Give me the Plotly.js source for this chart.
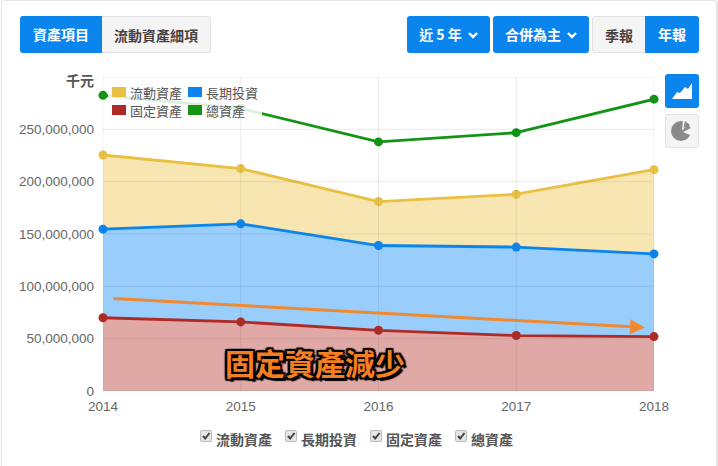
<!DOCTYPE html>
<html><head><meta charset="utf-8">
<script src="https://cdn.plot.ly/plotly-3.0.1.min.js"></script>
<style>
html,body{margin:0;padding:0;background:#fff;width:718px;height:466px;overflow:hidden;font-family:"Noto Sans CJK TC",sans-serif}
#frame{position:absolute;left:1px;top:0;width:717px;height:480px;border:1px solid #e6e6e6;border-right:2px solid #e6e6e6;border-radius:3px;box-sizing:border-box}
#chart{position:absolute;left:0;top:0;width:718px;height:466px}
.btn{position:absolute;top:16px;height:37px;line-height:36px;text-align:center;font-size:14px;font-weight:700;box-sizing:border-box;border-radius:3px}
.btn svg{margin-left:6px;vertical-align:1px}
.on{background:#0a85ee;color:#fff}
.off{background:#f4f4f4;color:#4a4040;border:1px solid #e2e2e2}
.side{position:absolute;left:665px;width:34px;height:34px;box-sizing:border-box;border-radius:3px}
.chk{position:absolute;top:429px;height:20px;font-size:14px;font-weight:700;color:#555;white-space:nowrap;line-height:20px}
.chk i{position:absolute;left:0;top:1px;width:12px;height:12px;box-sizing:border-box;background:#e6e6e6;border:1px solid #bbb;border-radius:2px}
.chk i svg{position:absolute;left:0;top:0}
.chk span{position:absolute;left:16px;top:0}
</style></head><body>
<div id="frame"></div>
<div id="chart"></div>
<div class="btn on" style="left:20px;width:82px;border-radius:3px 0 0 3px">資產項目</div>
<div class="btn off" style="left:102px;width:109px;border-radius:0 3px 3px 0;border-left:0">流動資產細項</div>
<div class="btn on" style="left:407px;width:83px">近 5 年<svg width="10" height="8"><path d="M1 2 L5 6 L9 2" fill="none" stroke="#fff" stroke-width="2.4"/></svg></div>
<div class="btn on" style="left:493px;width:96px">合併為主<svg width="10" height="8"><path d="M1 2 L5 6 L9 2" fill="none" stroke="#fff" stroke-width="2.4"/></svg></div>
<div class="btn off" style="left:592px;width:54px;border-radius:3px 0 0 3px">季報</div>
<div class="btn on" style="left:645px;width:54px;border-radius:0 3px 3px 0">年報</div>
<div class="side on" style="top:74px"><svg width="34" height="34"><path d="M7 25 L12 18 L15 19 L20 13 L23 15 L27 9 L27 25Z" fill="#fff"/></svg></div>
<div class="side off" style="top:114px"><svg width="32" height="32"><circle cx="15" cy="16" r="10" fill="#8a8a8a"/><path d="M16 15.5 L17 5 L24 8Z M17 17 L27 12 L26 21Z" fill="#f4f4f4"/><path d="M17.5 13 L19 6 L24 10Z" fill="#8a8a8a"/></svg></div>
<div class="chk" style="left:200px"><i><svg width="10" height="10"><path d="M2 5 L4.2 7.5 L8.5 2" fill="none" stroke="#444" stroke-width="2"/></svg></i><span>流動資產</span></div>
<div class="chk" style="left:285px"><i><svg width="10" height="10"><path d="M2 5 L4.2 7.5 L8.5 2" fill="none" stroke="#444" stroke-width="2"/></svg></i><span>長期投資</span></div>
<div class="chk" style="left:370px"><i><svg width="10" height="10"><path d="M2 5 L4.2 7.5 L8.5 2" fill="none" stroke="#444" stroke-width="2"/></svg></i><span>固定資產</span></div>
<div class="chk" style="left:455px"><i><svg width="10" height="10"><path d="M2 5 L4.2 7.5 L8.5 2" fill="none" stroke="#444" stroke-width="2"/></svg></i><span>總資產</span></div>
<script>
const years = ['2014','2015','2016','2017','2018'];
const current = [225.5, 212.5, 181, 188, 211.5];
const longTerm = [154.6, 159.7, 139, 137.5, 131];
const fixed = [70, 66, 58, 53, 52];
const total = [282.5, 270, 238, 246.8, 278.8];
const names = ['流動資產','長期投資','固定資產','總資產'];
const colors = ['#e8c042','#0a85ee','#b02a25','#149414'];
const fills = ['rgb(247,230,177)','rgb(153,205,251)','rgb(224,169,166)'];
const M = 1e6;
const yTicks = [0,50,100,150,200,250,300].map(v=>v*M);
const yLabels = ['0','50,000,000','100,000,000','150,000,000','200,000,000','250,000,000',''];
const series = [current,longTerm,fixed,total];
const traces = series.map((s,i)=>({
  x:years.map(Number), y:s.map(v=>v*M), name:names[i], type:'scatter', mode:'lines+markers',
  line:{color:colors[i],width:2.8}, marker:{color:colors[i],size:9}, cliponaxis:false,
  fill:i<3?'tozeroy':'none', fillcolor:fills[i], hoverinfo:'skip'
}));
const W=718,H=466,L=103,R=654,T=77,B=391;
const xa=v=>(v-L)/(R-L), ya=v=>(B-v)/(B-T);
const grid='rgba(60,60,60,0.10)';
const shapes=[];
yTicks.forEach(v=>shapes.push({type:'line',xref:'paper',yref:'y',x0:0,x1:1,y0:v,y1:v,line:{color:grid,width:1},layer:'above'}));
years.forEach(v=>shapes.push({type:'line',xref:'x',yref:'paper',x0:+v,x1:+v,y0:0,y1:1,line:{color:grid,width:1},layer:'above'}));
shapes.push({type:'rect',xref:'paper',yref:'paper',x0:xa(108),x1:xa(262),y0:ya(119),y1:ya(84),fillcolor:'rgba(255,255,255,0.85)',line:{width:0},layer:'above'});
const annotations=[];
const legendPos=[[112,92],[188,92],[112,110],[188,110]];
legendPos.forEach((p,i)=>{
  shapes.push({type:'rect',xref:'paper',yref:'paper',x0:xa(p[0]),x1:xa(p[0]+14),y0:ya(p[1]+5),y1:ya(p[1]-5),fillcolor:colors[i],line:{width:0},layer:'above'});
  annotations.push({xref:'paper',yref:'paper',x:xa(p[0]+16),y:ya(p[1]),xanchor:'left',yanchor:'middle',showarrow:false,text:names[i],font:{size:13,color:'#555'}});
});
annotations.push({xref:'paper',yref:'paper',x:xa(96),y:ya(80),xanchor:'right',yanchor:'middle',showarrow:false,text:'<b>千元</b>',font:{size:14,color:'#555'}});
annotations.push({x:2018-(654-645)/137.75,y:(B-327.5)/52.33*50*M,ax:2014+(112-103)/137.75,ay:(B-298.5)/52.33*50*M,axref:'x',ayref:'y',xref:'x',yref:'y',
  text:'',showarrow:true,arrowhead:2,arrowsize:1,arrowwidth:3,arrowcolor:'#f08a30'});
annotations.push({xref:'paper',yref:'paper',x:xa(315),y:ya(362),xanchor:'center',yanchor:'middle',showarrow:false,text:'<b>固定資產減少</b>',
  font:{size:30,color:'#f47f20',shadow:'3px 3px 1px #000, -2px -2px 1px #000, 2px -2px 1px #000, -2px 2px 1px #000, 2px 0 1px #000, -2px 0 1px #000, 0 2px 1px #000, 0 -2px 1px #000'}});
Plotly.newPlot('chart',traces,{
  width:W,height:H,margin:{l:L,r:W-R,t:T,b:H-B},showlegend:false,
  paper_bgcolor:'rgba(0,0,0,0)',plot_bgcolor:'rgba(0,0,0,0)',
  font:{family:'"Noto Sans CJK TC",Roboto,sans-serif'},
  xaxis:{range:[2014,2018],tickmode:'array',tickvals:years.map(Number),ticktext:years,showgrid:false,showline:false,zeroline:false,
    tickfont:{family:'"Liberation Sans",Arial,sans-serif',size:13.5,color:'#666'},ticks:'',ticklabelstandoff:5},
  yaxis:{range:[0,300*M],tickmode:'array',tickvals:yTicks,ticktext:yLabels,showgrid:false,zeroline:false,showline:false,
    tickfont:{family:'"Liberation Sans",Arial,sans-serif',size:13.5,color:'#666'},ticks:'',ticklabelstandoff:8},
  shapes,annotations
},{displayModeBar:false,staticPlot:true});
</script>
</body></html>
